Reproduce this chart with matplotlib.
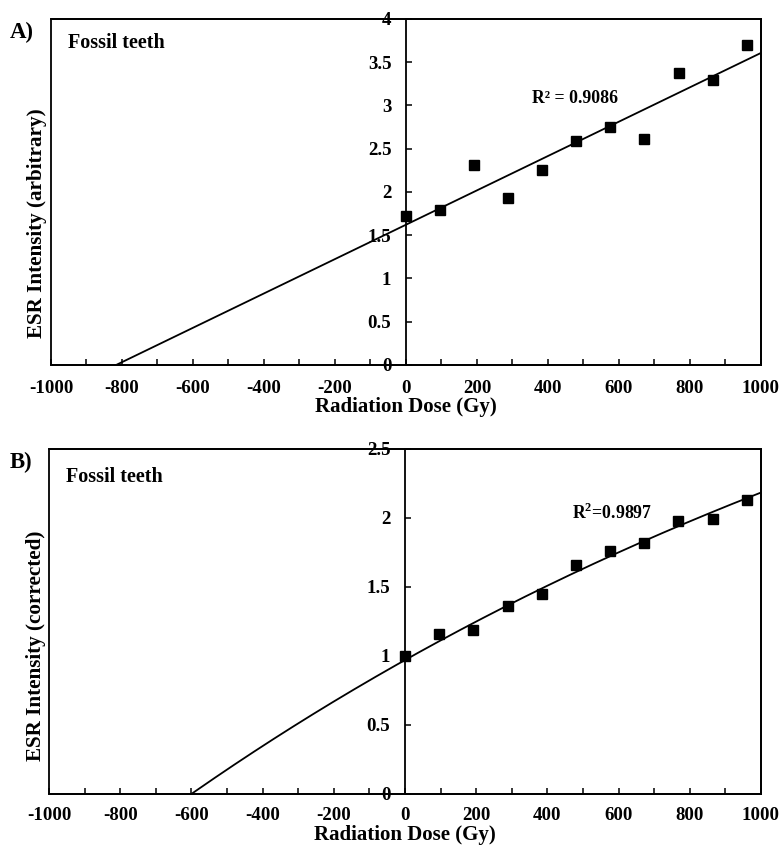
import numpy as np
import matplotlib
matplotlib.use("Agg")
import matplotlib.pyplot as plt
from matplotlib.patches import Rectangle
from matplotlib.ticker import MultipleLocator, FuncFormatter

plt.rcParams['font.family'] = ['Liberation Serif', 'DejaVu Serif']
plt.rcParams['font.weight'] = 'bold'
plt.rcParams['axes.unicode_minus'] = False
plt.rcParams['mathtext.fontset'] = 'custom'
plt.rcParams['mathtext.rm'] = 'Liberation Serif:bold'
plt.rcParams['mathtext.bf'] = 'Liberation Serif:bold'

# ---- data ----
dose = [0, 96, 192, 288, 384, 480, 576, 672, 768, 864, 960]
esr_arbitrary = [1.72, 1.79, 2.31, 1.93, 2.25, 2.59, 2.75, 2.61, 3.38, 3.29, 3.70]
esr_corrected = [1.00, 1.16, 1.19, 1.36, 1.45, 1.66, 1.76, 1.82, 1.98, 1.99, 2.13]
r2_a_label = "R² = 0.9086"
r2_b_label = r"R$^{2}$=0.9897"
panel_labels = ["A)", "B)"]
sample_label = "Fossil teeth"
xlabel = "Radiation Dose (Gy)"
ylabels = ["ESR Intensity (arbitrary)", "ESR Intensity (corrected)"]
# saturating-exponential fit for panel B: y = A*(1 - exp(-(x + D)/B))
fit_b_A = 4.96
fit_b_D = 600.0
fit_b_B = 2756.0

fig = plt.figure(figsize=(7.81, 8.47), dpi=100)
axA = fig.add_axes([0.0653, 0.5691, 0.909, 0.4085])
axB = fig.add_axes([0.0627, 0.0626, 0.9117, 0.4073])

def style(ax, ymax, ylab, xpad, xlabpad):
    ax.set_xlim(-1000, 1000)
    ax.set_ylim(0, ymax)
    ax.spines['left'].set_position(('data', 0))
    for s in ax.spines.values():
        s.set_linewidth(1.3)
    ax.add_patch(Rectangle((0, 0), 1, 1, transform=ax.transAxes, fill=False,
                           lw=1.3, edgecolor='black', clip_on=False, zorder=5))
    ax.xaxis.set_major_locator(MultipleLocator(200))
    ax.xaxis.set_minor_locator(MultipleLocator(100))
    ax.yaxis.set_major_locator(MultipleLocator(0.5))
    ax.tick_params(axis='x', which='both', direction='in', length=4, width=1.1,
                   labelsize=13.6, pad=xpad)
    ax.tick_params(axis='y', which='both', direction='in', length=4.5, width=1.1,
                   labelsize=13.6, pad=10.5)
    ax.yaxis.set_major_formatter(FuncFormatter(lambda v, p: ('%g' % v)))
    for lab in ax.get_xticklabels() + ax.get_yticklabels():
        lab.set_fontweight('bold')
    ax.set_xlabel(xlabel, fontsize=15, fontweight='bold', labelpad=xlabpad)
    ax.set_ylabel(ylab, fontsize=15.2, fontweight='bold')

style(axA, 4, ylabels[0], 11, 0)
style(axB, 2.5, ylabels[1], 9.5, 0.5)
axA.yaxis.set_label_coords(-0.006, 0.41)
axB.yaxis.set_label_coords(-0.004, 0.43)

# Panel A
xa = np.array(dose, float)
ya = np.array(esr_arbitrary, float)
slope, icpt = np.polyfit(xa, ya, 1)
xl = np.linspace(-1000, 1000, 200)
axA.plot(xl, icpt + slope * xl, color='black', lw=1.3, zorder=3)
axA.plot(xa, ya, 's', color='black', ms=7, zorder=4)
axA.text(0.678, 0.77, r2_a_label, transform=axA.transAxes, fontsize=12.8,
         fontweight='bold', ha='left', va='center')

# Panel B
xb = np.array(dose, float)
yb = np.array(esr_corrected, float)
xc = np.linspace(-1000, 1000, 400)
yc = fit_b_A * (1 - np.exp(-(xc + fit_b_D) / fit_b_B))
axB.plot(xc, yc, color='black', lw=1.3, zorder=3)
axB.plot(xb, yb, 's', color='black', ms=7, zorder=4)
axB.text(0.734, 0.815, r2_b_label, transform=axB.transAxes, fontsize=12.8,
         fontweight='bold', ha='left', va='center')

axA.text(0.024, 0.932, sample_label, transform=axA.transAxes, fontsize=14.5,
         fontweight='bold', ha='left', va='center')
axB.text(0.024, 0.92, sample_label, transform=axB.transAxes, fontsize=14.5,
         fontweight='bold', ha='left', va='center')

fig.text(10 / 781, 1 - 32 / 847, panel_labels[0], fontsize=16.5, fontweight='bold',
         ha='left', va='center')
fig.text(10 / 781, 1 - 462 / 847, panel_labels[1], fontsize=16.5, fontweight='bold',
         ha='left', va='center')

fig.savefig("out.png", dpi=100)
